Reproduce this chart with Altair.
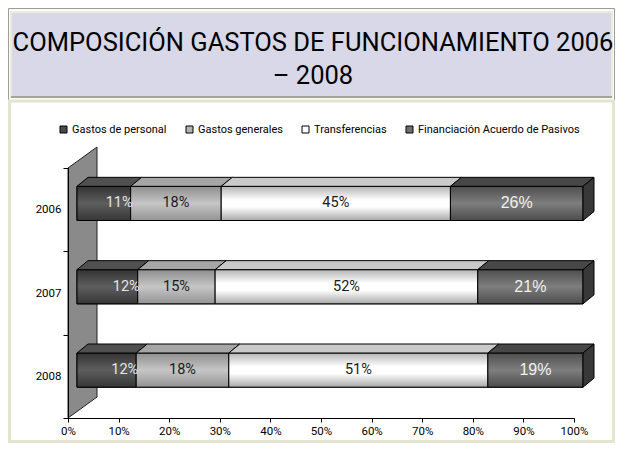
import altair as alt
import pandas as pd

# ---------------- data ----------------
years = ["2006", "2007", "2008"]
series = ["Gastos de personal", "Gastos generales", "Transferencias",
          "Financiación Acuerdo de Pasivos"]
gastos_personal = [10.6, 12.0, 11.7]
gastos_generales = [17.9, 15.3, 18.3]
transferencias = [45.3, 51.9, 51.2]
financiacion_pasivos = [26.2, 20.8, 18.8]
x_tick_values = [0.0, 0.1, 0.2, 0.3, 0.4, 0.5, 0.6, 0.7, 0.8, 0.9, 1.0]
title_lines = ["COMPOSICIÓN GASTOS DE FUNCIONAMIENTO 2006", "– 2008"]

# ---------------- layout / style constants ----------------
NARROW = "Roboto, Liberation Sans, sans-serif"
REGULAR = "Liberation Sans, Arial, sans-serif"
PLOT_W, PLOT_H = 506, 250
PAD_L, PAD_T, PAD_R, PAD_B = 60, 160, 41, 25
TOTAL_W = PAD_L + PLOT_W + PAD_R
TOTAL_H = PAD_T + PLOT_H + PAD_B
PX_PER_BAND = PLOT_H / len(years)
SHIFT = 9 / PLOT_W
DEPTH_X = 11 / PLOT_W
DEPTH_Y = 9 / PX_PER_BAND
FACE_TOP, FACE_BOT = 0.22, 0.63
WALL_X = 29 / PLOT_W
WALL_Y = 21 / PX_PER_BAND

values_by_series = [gastos_personal, gastos_generales, transferencias, financiacion_pasivos]
legend_colors = ["#4a4a4a", "#b4b4b4", "#ffffff", "#6e6e6e"]
top_colors = ["#505050", "#a6a6a6", "#cacaca", "#474747"]


def grad(stops):
    return {"gradient": "linear", "x1": 0, "y1": 0, "x2": 0, "y2": 1,
            "stops": [{"offset": o, "color": c} for o, c in stops]}


front_grads = [
    grad([(0, "#333333"), (0.5, "#5e5e5e"), (1, "#363636")]),
    grad([(0, "#8e8e8e"), (0.5, "#c6c6c6"), (1, "#939393")]),
    grad([(0, "#b4b4b4"), (0.4, "#ffffff"), (0.6, "#ffffff"), (1, "#a8a8a8")]),
    grad([(0, "#4e4e4e"), (0.5, "#7e7e7e"), (1, "#4c4c4c")]),
]

# ---------------- tables built from the arrays ----------------
front, top, side = [], [], []
for i, yr in enumerate(years):
    cum = 0.0
    for s, vals in zip(series, values_by_series):
        v = vals[i]
        x0 = SHIFT + cum / 100
        x1 = SHIFT + (cum + v) / 100
        cum += v
        yt, yb = i + FACE_TOP, i + FACE_BOT
        seg = f"{yr}-{s}"
        front.append(dict(year=yr, serie=s, value=v, x0=x0, x1=x1,
                          xm=(x0 + x1) / 2, yt=yt, yb=yb, ym=(yt + yb) / 2))
        top.append(dict(seg=seg, serie=s, yy=yt, xa=x0, xb=x1))
        top.append(dict(seg=seg, serie=s, yy=yt - DEPTH_Y, xa=x0 + DEPTH_X,
                        xb=x1 + DEPTH_X))
    last = front[-1]
    side.append(dict(seg=yr, xx=last["x1"], ya=last["yt"], yb=last["yb"]))
    side.append(dict(seg=yr, xx=last["x1"] + DEPTH_X, ya=last["yt"] - DEPTH_Y,
                     yb=last["yb"] - DEPTH_Y))

front_df = pd.DataFrame(front)
top_df = pd.DataFrame(top)
side_df = pd.DataFrame(side)
wall_df = pd.DataFrame([dict(xx=0.0, ya=0.0, yb=float(len(years))),
                        dict(xx=WALL_X, ya=-WALL_Y, yb=len(years) - WALL_Y)])
one = pd.DataFrame({"k": [0]})
title_df = pd.DataFrame({"t": [title_lines]})

# ---------------- scales and axes ----------------
xs = alt.Scale(domain=[0, 1], nice=False, zero=False)
ys = alt.Scale(domain=[0, len(years)], reverse=True, nice=False, zero=False)
year_arr = "[" + ",".join(f"'{y}'" for y in years) + "]"
y_vals = [k / 2 for k in range(2 * len(years) + 1)]

x_axis = alt.Axis(title=None, values=x_tick_values, format=".0%", grid=False,
                  domainColor="black", tickColor="black", tickSize=4,
                  labelFont=NARROW, labelFontSize=11.5, labelColor="black",
                  labelPadding=3, labelFlush=False, labelOverlap=False, zindex=2)
y_axis = alt.Axis(title=None, values=y_vals,
                  labelExpr=f"datum.value % 1 == 0.5 ? {year_arr}[floor(datum.value)] : ''",
                  tickOpacity={"condition": {"test": "datum.value % 1 != 0", "value": 0},
                               "value": 1},
                  grid=False, domainColor="black", tickColor="black", tickSize=5,
                  labelFont=NARROW, labelFontSize=11.5, labelColor="black",
                  labelPadding=2, labelOverlap=False, zindex=2)


def X(f):
    return alt.X(f, type="quantitative", scale=xs, axis=x_axis, stack=None)


def Y(f):
    return alt.Y(f, type="quantitative", scale=ys, axis=y_axis, stack=None)


def deco_rect(x, x2, y, y2, **kw):
    return alt.Chart(one).mark_rect(**kw).encode(
        x=alt.value(x - PAD_L), x2=alt.value(x2 - PAD_L),
        y=alt.value(y - PAD_T), y2=alt.value(y2 - PAD_T))


outer = deco_rect(0.5, TOTAL_W - 0.5, 0.5, TOTAL_H - 0.5, fill="#fbfbf6",
                  stroke="#9c9c9c", strokeWidth=1)
title_box = deco_rect(3, TOTAL_W - 3, 4, 89, fill="#d8d8e8", stroke="#ececdc",
                      strokeWidth=2)
title_line = deco_rect(3, TOTAL_W - 3, 88, 90, fill="#a4a49c")
panel = deco_rect(1.5, TOTAL_W - 1.5, 93, TOTAL_H - 1.5, fill="white",
                  stroke="#e4e4d0", strokeWidth=3)

title = alt.Chart(title_df).mark_text(
    font="Roboto, Liberation Sans, sans-serif", fontSize=25.5, fontWeight="normal",
    color="black", align="center", baseline="middle", lineHeight=33
).encode(x=alt.value(305 - PAD_L), y=alt.value(35 - PAD_T), text="t:N")

wall = alt.Chart(wall_df).mark_area(
    orient="vertical", fill="#8a8a8a", stroke="#222222", strokeWidth=1
).encode(x=X("xx"), y=Y("ya"), y2="yb")

front_legend = alt.Chart(front_df).mark_bar(stroke="black", strokeWidth=1).encode(
    x=X("x0"), x2="x1", y=Y("yt"), y2="yb",
    color=alt.Color("serie:N", scale=alt.Scale(domain=series, range=legend_colors),
                    legend=alt.Legend(
                        title=None, orient="none", legendX=-10, legendY=-44,
                        direction="horizontal", columns=4, symbolType="square",
                        symbolSize=49, symbolStrokeColor="black",
                        symbolStrokeWidth=1, labelFont=NARROW, labelFontSize=11,
                        labelColor="black", labelOffset=3, columnPadding=17,
                        labelLimit=0)))

fill_cond = {"condition": [{"test": f"datum.serie === '{s}'", "value": g}
                           for s, g in zip(series[:-1], front_grads[:-1])],
             "value": front_grads[-1]}
front_grad = alt.Chart(front_df).mark_bar(stroke="black", strokeWidth=1).encode(
    x=X("x0"), x2="x1", y=Y("yt"), y2="yb", fill=fill_cond)

top_cond = {"condition": [{"test": f"datum.serie === '{s}'", "value": c}
                          for s, c in zip(series[:-1], top_colors[:-1])],
            "value": top_colors[-1]}
top_faces = alt.Chart(top_df).mark_area(
    orient="horizontal", stroke="black", strokeWidth=1
).encode(y=Y("yy"), x=X("xa"), x2="xb", detail="seg:N", fill=top_cond)

side_faces = alt.Chart(side_df).mark_area(
    orient="vertical", fill="#383838", stroke="black", strokeWidth=1
).encode(x=X("xx"), y=Y("ya"), y2="yb", detail="seg:N")

lab_base = alt.Chart(front_df).transform_calculate(
    label="format(datum.value, '.0f') + '%'")
lab_personal = lab_base.transform_filter(f"datum.serie === '{series[0]}'").mark_text(
    align="right", baseline="middle", dx=2, font=NARROW, fontSize=14.5, color="#e6e6e6"
).encode(x=X("x1"), y=Y("ym"), text="label:N")
lab_mid = lab_base.transform_filter(
    f"datum.serie === '{series[1]}' || datum.serie === '{series[2]}'").mark_text(
    align="center", baseline="middle", font=NARROW, fontSize=14.5, color="#1a1a1a"
).encode(x=X("xm"), y=Y("ym"), text="label:N")
lab_fin = lab_base.transform_filter(f"datum.serie === '{series[3]}'").mark_text(
    align="center", baseline="middle", font=REGULAR, fontSize=16, color="#f0f0f0"
).encode(x=X("xm"), y=Y("ym"), text="label:N")

chart = alt.layer(
    outer, title_box, title_line, panel, title, wall, front_legend, front_grad,
    top_faces, side_faces, lab_personal, lab_mid, lab_fin
).properties(
    width=PLOT_W, height=PLOT_H,
    autosize=alt.AutoSizeParams(type="none"),
    padding={"left": PAD_L, "top": PAD_T, "right": PAD_R, "bottom": PAD_B},
    background="white"
).configure_view(strokeWidth=0)

chart.save("out.html", embed_options={"renderer": "svg", "actions": False})
